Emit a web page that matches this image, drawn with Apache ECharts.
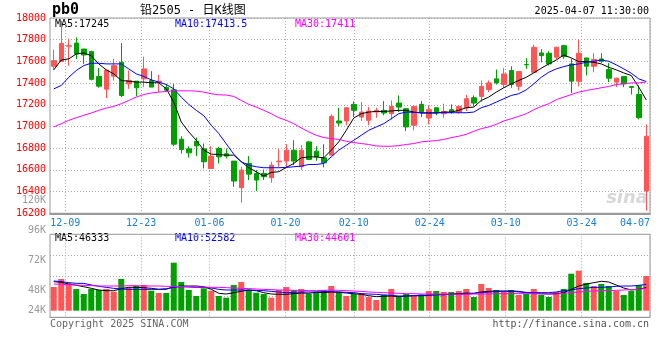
<!DOCTYPE html>
<html><head><meta charset="utf-8">
<script src="https://cdn.jsdelivr.net/npm/echarts/dist/echarts.min.js"></script>
<style>html,body{margin:0;padding:0;background:#fff}#c{width:660px;height:360px}</style>
</head><body><div id="c"></div>
<script>
const dates = ['12-05','12-06','12-09','12-10','12-11','12-12','12-13','12-16','12-17','12-18',
'12-19','12-20','12-23','12-24','12-25','12-26','12-27','12-30','12-31','01-02',
'01-03','01-06','01-07','01-08','01-09','01-10','01-13','01-14','01-15','01-16',
'01-17','01-20','01-21','01-22','01-23','01-24','01-27','02-05','02-06','02-07',
'02-10','02-11','02-12','02-13','02-14','02-17','02-18','02-19','02-20','02-21',
'02-24','02-25','02-26','02-27','02-28','03-03','03-04','03-05','03-06','03-07',
'03-10','03-11','03-12','03-13','03-14','03-17','03-18','03-19','03-20','03-21',
'03-24','03-25','03-26','03-27','03-28','03-31','04-01','04-02','04-03','04-07'];
const tickDates = ['12-09','12-23','01-06','01-20','02-10','02-24','03-10','03-24','04-07'];

const open = [17555,17598,17740,17769,17714,17690,17461,17344,17464,17592,
17393,17418,17439,17424,17409,17360,17338,16883,16794,16864,
16794,16613,16797,16748,16681,16436,16659,16567,16567,16528,
16675,16681,16782,16629,16858,16773,16711,16736,17051,17051,
17204,17087,17057,17133,17149,17118,17216,17164,17011,17204,
17078,17173,17118,17155,17133,17173,17265,17277,17341,17439,
17387,17516,17372,17571,17500,17678,17675,17638,17745,17577,
17418,17632,17555,17623,17525,17409,17461,17369,17295,16406];
const close = [17607,17766,17745,17668,17659,17435,17372,17520,17561,17286,
17424,17357,17531,17363,17418,17335,16837,16788,16757,16821,
16675,16727,16720,16727,16497,16598,16561,16506,16537,16644,
16681,16782,16681,16782,16696,16720,16665,17094,17032,17173,
17149,17133,17143,17149,17124,17185,17179,16996,17185,17133,
17155,17124,17139,17133,17185,17256,17216,17369,17402,17402,
17485,17387,17506,17568,17730,17653,17577,17730,17644,17418,
17675,17555,17617,17601,17445,17445,17393,17360,17081,16910];
const low = [17522,17598,17560,17622,17577,17424,17357,17262,17424,17271,
17347,17280,17363,17363,17317,17320,16818,16751,16714,16727,
16613,16613,16659,16705,16445,16298,16506,16405,16506,16482,
16629,16623,16644,16598,16690,16684,16623,16736,17002,17011,
17087,17051,17011,17081,17103,17063,17133,16959,16965,17087,
17020,17103,17081,17118,17118,17143,17185,17225,17317,17387,
17357,17357,17332,17531,17500,17592,17562,17617,17623,17308,
17369,17470,17500,17586,17409,17363,17363,17295,17066,16225];
const high = [17708,17975,17810,17821,17714,17699,17540,17520,17623,17769,
17516,17418,17644,17510,17476,17390,17393,16910,16818,16898,
16843,16818,16812,16797,16681,16629,16727,16598,16604,16675,
16791,16837,16873,16827,16867,16818,16837,17112,17173,17173,
17231,17225,17179,17173,17234,17240,17286,17164,17185,17234,
17194,17173,17210,17204,17194,17292,17286,17424,17424,17525,
17540,17555,17506,17632,17754,17714,17693,17736,17754,17623,
17800,17632,17675,17675,17586,17449,17461,17369,17378,17020];

const ma5 = [17522,17613,17623,17669,17678,17653,17577,17522,17485,17424,
17418,17409,17409,17403,17403,17347,17225,17042,16950,16873,
16782,16745,16742,16736,16736,16675,16620,16583,16543,16577,
16583,16623,16659,16711,16720,16720,16711,16782,16858,16965,
17078,17118,17133,17139,17139,17143,17149,17149,17133,17124,
17124,17124,17133,17133,17149,17173,17179,17240,17271,17317,
17357,17393,17424,17454,17494,17537,17577,17613,17659,17632,
17598,17598,17592,17577,17546,17522,17494,17470,17363,17245];
const ma10 = [17347,17378,17454,17516,17562,17583,17583,17577,17577,17577,
17531,17485,17461,17430,17409,17387,17347,17271,17204,17149,
17100,17011,16935,16840,16745,16675,16644,16629,16620,16620,
16620,16623,16629,16635,16650,16650,16659,16720,16782,16827,
16873,16919,16965,16996,17026,17072,17118,17133,17130,17127,
17127,17127,17127,17127,17127,17127,17133,17173,17194,17225,
17256,17286,17302,17338,17393,17454,17500,17531,17552,17568,
17577,17592,17601,17613,17601,17568,17531,17491,17439,17414];
const ma30 = [16996,17026,17057,17081,17103,17124,17149,17170,17185,17210,
17240,17271,17295,17308,17317,17323,17329,17329,17329,17326,
17317,17302,17292,17290,17277,17240,17204,17179,17149,17118,
17081,17057,17026,16987,16950,16919,16898,16889,16880,16864,
16852,16843,16834,16821,16818,16818,16824,16834,16843,16858,
16865,16870,16880,16898,16910,16928,16956,16980,16996,17020,
17051,17072,17094,17118,17155,17185,17210,17247,17271,17295,
17317,17332,17344,17357,17369,17387,17393,17402,17402,17411];

const volume = [47400,63400,54800,43400,33400,43400,41400,43400,38000,63400,
46800,49400,51400,40000,35400,35400,96000,57400,41400,29400,
44800,40000,29400,26000,51400,57400,41400,36000,33400,26000,
41400,47400,41400,43400,33400,38000,41400,49400,38000,29400,
33400,34800,27400,21400,32000,43400,27400,33400,29400,32800,
39400,39400,37400,37400,39400,43400,27400,53400,45400,41400,
37400,41400,31400,33400,43400,31400,27400,37400,43400,74000,
80000,55400,49400,53400,49400,39400,31400,39400,51400,69400];
const volMa5 = [58000,56800,53400,50800,48000,44800,41400,40000,40000,44000,
46800,46800,46000,44800,42800,42800,48000,49400,49400,49400,
48000,42800,34800,33400,36000,38800,41400,40000,36000,33400,
32800,32800,34000,35400,34800,36800,36000,37400,36800,35400,
34000,32800,30000,28000,28800,29400,28000,29400,30000,30000,
30800,32000,32000,33400,34000,35400,34800,37400,38800,39400,
39400,39400,38800,36000,34800,34000,33400,34000,36000,42800,
49400,53400,56000,58800,57400,51400,45400,41400,42800,46300];
const volMa10 = [59400,58100,56100,54700,54700,51400,48800,46700,44700,43400,
42700,42700,42700,42700,42700,44100,46700,48100,47400,46700,
46700,45400,42700,41400,41400,41400,41400,40700,40100,38700,
37400,36100,36700,37400,37400,37400,38100,38100,37400,36700,
36100,34100,33400,32700,31400,30700,29400,29400,30100,30100,
31400,32100,32100,32700,33400,33400,34700,36100,37400,38100,
38700,38700,37400,36700,36100,36100,36100,37400,40100,41400,
44100,45400,46700,46700,47400,48800,49400,49400,50700,52600];
const volMa30 = [53400,52700,52100,51400,50700,50100,49400,49400,49400,49400,
50100,50100,49400,49400,49400,48700,48700,48100,48100,47400,
47400,46700,46700,46100,45400,44700,44100,43400,42700,42100,
41400,41400,40700,40700,40100,40100,40700,41400,40700,40100,
39400,38700,37400,36700,36100,35400,34700,34100,34100,33400,
33400,33400,33400,33400,32700,32700,33400,33400,33400,34100,
34100,34100,34100,34100,34100,33400,33400,33400,34700,36100,
37400,38700,39400,40100,40100,40700,41400,42100,42700,44600];

const volTickLabels = ['120K','96K','72K','48K','24K'];
const header = {symbol:'pb0', title:'铅2505 - 日K线图', time:'2025-04-07 11:30:00'};
const priceMaText = ['MA5:17245','MA10:17413.5','MA30:17411'];
const volMaText = ['MA5:46333','MA10:52582','MA30:44601'];

const UP = '#ff5555', DOWN = '#00a000';
const MONO = '"DejaVu Sans Mono", monospace';
const maColors = ['#000000','#0000ff','#ff00ff'];
const gridDot = {color:'#aaaaaa', width:1, type:[1,2]};

const kData = open.map((o,i)=>[o, close[i], low[i], high[i]]);
const isTick = (idx, val) => tickDates.indexOf(val) >= 0;

const graphics = [];
graphics.push({type:'text', x:52, y:10, style:{text:header.symbol, font:'bold 15px '+MONO, fill:'#000', verticalAlign:'middle'}});
graphics.push({type:'text', x:140, y:11, style:{text:header.title, font:'12px "DejaVu Sans Mono","Noto Sans CJK SC"', fill:'#000', verticalAlign:'middle'}});
graphics.push({type:'text', x:649, y:11.5, style:{text:header.time, font:'10px '+MONO, fill:'#000', align:'right', verticalAlign:'middle'}});
const maX = [55,175,295];
priceMaText.forEach((t,i)=>graphics.push({type:'text', x:maX[i], y:24, style:{text:t, font:'10px '+MONO, fill:maColors[i], verticalAlign:'middle'}}));
volMaText.forEach((t,i)=>graphics.push({type:'text', x:maX[i], y:238.5, style:{text:t, font:'10px '+MONO, fill:maColors[i], verticalAlign:'middle'}}));
const volLabelY = [200.5, 230.7, 260.3, 290.3, 310];
volTickLabels.forEach((t,i)=>graphics.push({type:'text', x:46, y:volLabelY[i], style:{text:t, font:'10px '+MONO, fill:'#999', align:'right', verticalAlign:'middle'}}));
graphics.push({type:'text', x:50, y:324, style:{text:'Copyright 2025 SINA.COM', font:'10px '+MONO, fill:'#666', verticalAlign:'middle'}});
graphics.push({type:'text', x:649, y:324, style:{text:'http://finance.sina.com.cn', font:'10px '+MONO, fill:'#555', align:'right', verticalAlign:'middle'}});
graphics.push({type:'text', x:648, y:198, z:-1, style:{text:'sina', font:'italic bold 18px "DejaVu Sans"', fill:'#d8d8d8', align:'right', verticalAlign:'middle'}});

const chart = echarts.init(document.getElementById('c'), null, {renderer:'canvas'});
chart.setOption({
  animation:false,
  backgroundColor:'#fff',
  graphic: graphics,
  grid:[
    {left:50, right:10, top:18, height:195.3, show:true, borderColor:'#999', borderWidth:1},
    {left:50, right:10, top:234.3, height:83, show:true, borderColor:'#999', borderWidth:1}
  ],
  xAxis:[
    {type:'category', gridIndex:0, data:dates, boundaryGap:true, show:false, position:'top'},
    {type:'category', gridIndex:1, data:dates, boundaryGap:true, show:false, position:'top'},
    {type:'category', gridIndex:0, data:dates, boundaryGap:false, position:'bottom',
      axisLine:{show:true, onZero:false, lineStyle:{color:'#999', width:2}},
      axisTick:{show:false},
      axisLabel:{interval:isTick, color:'#1a80d0', fontFamily:MONO, fontSize:10, margin:5, alignMaxLabel:'right', showMaxLabel:true},
      splitLine:{show:true, interval:isTick, lineStyle:gridDot}},
    {type:'category', gridIndex:1, data:dates, boundaryGap:false, position:'bottom',
      axisLine:{show:true, onZero:false, lineStyle:{color:'#999', width:1}},
      axisTick:{show:false}, axisLabel:{show:false},
      splitLine:{show:true, interval:isTick, lineStyle:gridDot}}
  ],
  yAxis:[
    {type:'value', gridIndex:0, min:16200, max:18000, interval:200, position:'left',
      axisLine:{show:false}, axisTick:{show:false},
      axisLabel:{color:'#ff0000', fontFamily:MONO, fontSize:10, margin:4, showMinLabel:true, showMaxLabel:true, hideOverlap:false, formatter:v => String(v)},
      splitLine:{show:true, lineStyle:gridDot}},
    {type:'value', gridIndex:1, min:-13200, max:152800, show:false, position:'right', splitLine:{show:false}},
    {type:'value', gridIndex:1, min:0, max:4, interval:1, position:'left',
      axisLine:{show:false}, axisTick:{show:false}, axisLabel:{show:false},
      splitLine:{show:true, lineStyle:gridDot}}
  ],
  series:[
    {type:'candlestick', xAxisIndex:0, yAxisIndex:0, data:kData, barWidth:5,
      itemStyle:{color:UP, color0:DOWN, borderColor:UP, borderColor0:DOWN, borderWidth:1}},
    {type:'line', xAxisIndex:0, yAxisIndex:0, data:ma5, symbol:'none', lineStyle:{color:maColors[0], width:1}},
    {type:'line', xAxisIndex:0, yAxisIndex:0, data:ma10, symbol:'none', lineStyle:{color:maColors[1], width:1}},
    {type:'line', xAxisIndex:0, yAxisIndex:0, data:ma30, symbol:'none', lineStyle:{color:maColors[2], width:1}},
    {type:'bar', xAxisIndex:1, yAxisIndex:1, data:volume, barWidth:6,
      itemStyle:{color:p => close[p.dataIndex] >= open[p.dataIndex] ? UP : DOWN}},
    {type:'line', xAxisIndex:1, yAxisIndex:1, data:volMa5, symbol:'none', lineStyle:{color:maColors[0], width:1}},
    {type:'line', xAxisIndex:1, yAxisIndex:1, data:volMa10, symbol:'none', lineStyle:{color:maColors[1], width:1}},
    {type:'line', xAxisIndex:1, yAxisIndex:1, data:volMa30, symbol:'none', lineStyle:{color:maColors[2], width:1}}
  ]
});
</script></body></html>
